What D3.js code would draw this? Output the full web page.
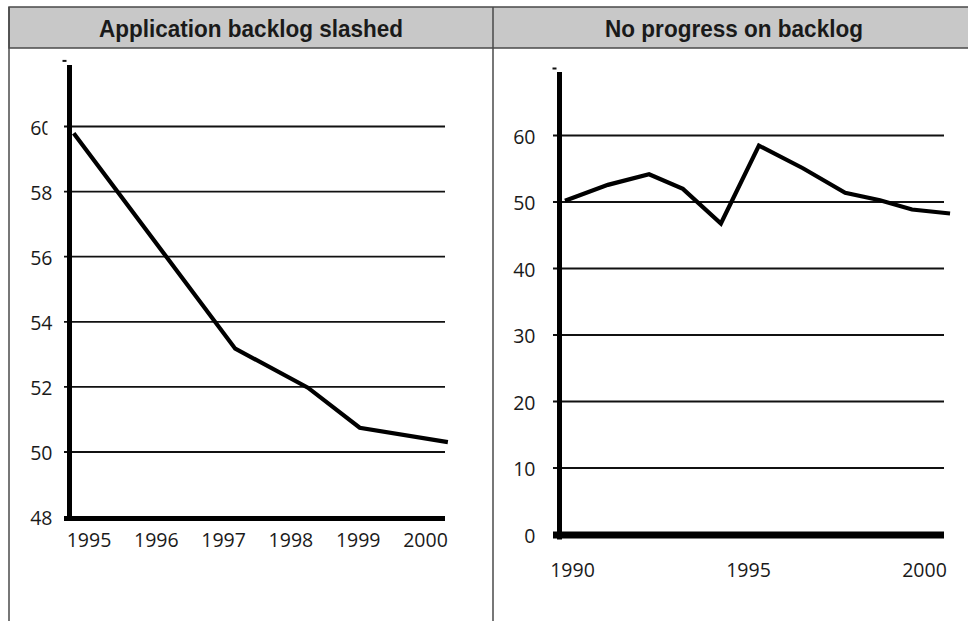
<!DOCTYPE html>
<html>
<head>
<meta charset="utf-8">
<script src="https://cdn.jsdelivr.net/npm/d3@7"></script>
<style>
  body { margin: 0; background: #fff; }
  svg { display: block; }
  .lbl { font-family: "Open Sans", sans-serif; font-size: 19.5px; fill: #1a1a1a; }
  .title { font-family: "Liberation Sans", Arial, sans-serif; font-weight: bold; font-size: 24.5px; fill: #1a1a1a; }
</style>
</head>
<body>
<svg width="968" height="621" viewBox="0 0 968 621"></svg>
<script>
// panel titles
const titles = ["Application backlog slashed", "No progress on backlog"];

// left panel: backlog, 1995-2000 (x read as fractional years)
const leftYears  = [1994.78, 1997.18, 1998.26, 1999.03, 2000.34];
const leftValues = [59.78, 53.16, 51.96, 50.73, 50.29];
const leftXTicks = [1995, 1996, 1997, 1998, 1999, 2000];
const leftYTicks = [48, 50, 52, 54, 56, 58, 60, 62];
const leftGrid   = [50, 52, 54, 56, 58, 60];

const rightYears  = [1989.80, 1991.02, 1992.19, 1993.15, 1994.23, 1995.31, 1996.56, 1997.76, 1998.75, 1999.66, 2000.74];
const rightValues = [50.1, 52.5, 54.1, 51.9, 46.7, 58.4, 55.0, 51.3, 50.2, 48.8, 48.2];
const rightXTicks = [1990, 1995, 2000];
const rightYTicks = [0, 10, 20, 30, 40, 50, 60, 70];
const rightGrid   = [10, 20, 30, 40, 50, 60];

const svg = d3.select("svg");

// frame + header band
svg.append("rect")
    .attr("x", 9).attr("y", 7)
    .attr("width", 980).attr("height", 41)
    .attr("fill", "#c8c8c8")
    .attr("stroke", "#4a4a4a").attr("stroke-width", 1.5);
svg.append("line").attr("x1", 9).attr("x2", 9).attr("y1", 7).attr("y2", 621)
    .attr("stroke", "#4a4a4a").attr("stroke-width", 1.5);
svg.append("line").attr("x1", 493).attr("x2", 493).attr("y1", 7).attr("y2", 621)
    .attr("stroke", "#4a4a4a").attr("stroke-width", 1.5);

// condensed look: squeeze the bold sans horizontally
svg.selectAll(".title")
    .data(titles)
    .enter()
    .append("text")
    .attr("class", "title")
    .attr("transform", (d, i) => `translate(${i === 0 ? 251 : 734},37) scale(0.92,1)`)
    .attr("text-anchor", "middle")
    .text(d => d);

function drawPanel(cfg) {
    const g = svg.append("g");
    const x = cfg.x, y = cfg.y;

    // gridlines
    g.append("g")
        .attr("transform", `translate(${cfg.axisX},0)`)
        .call(d3.axisLeft(y).tickValues(cfg.grid).tickSize(-(cfg.gridEnd - cfg.axisX)).tickFormat(""))
        .call(a => a.select(".domain").remove())
        .call(a => a.selectAll("line")
            .attr("x1", cfg.gridStart - cfg.axisX)
            .attr("stroke", "#111").attr("stroke-width", 1.8));

    // y tick labels + top dash
    const topVal = cfg.yTicks[cfg.yTicks.length - 1];
    const ya = g.append("g")
        .attr("transform", `translate(${cfg.axisX},0)`)
        .call(d3.axisLeft(y).tickValues(cfg.yTicks).tickSize(0).tickPadding(cfg.labelPad)
            .tickFormat(d => d === topVal ? "" : d));
    ya.select(".domain").remove();
    ya.selectAll("text").attr("class", "lbl").attr("font-size", null).attr("font-family", null)
        .attr("dy", "0.42em");
    ya.append("line")
        .attr("x1", -7).attr("x2", -3)
        .attr("y1", y(topVal)).attr("y2", y(topVal))
        .attr("stroke", "#111").attr("stroke-width", 2);
    if (cfg.clipTop) {
        const top = ya.selectAll(".tick").filter(d => d === cfg.clipTop.value);
        svg.append("clipPath").attr("id", "clipTop")
            .append("rect").attr("x", -100).attr("y", -50).attr("width", 100 - cfg.clipTop.cut).attr("height", 100);
        top.select("text").attr("clip-path", "url(#clipTop)");
    }

    // x tick labels
    const xa = g.append("g")
        .attr("transform", `translate(0,${cfg.xLabelY})`)
        .call(d3.axisBottom(x).tickValues(cfg.xTicks).tickSize(0).tickPadding(0).tickFormat(d3.format("d")));
    xa.select(".domain").remove();
    xa.selectAll("text").attr("class", "lbl").attr("font-size", null).attr("font-family", null).attr("dy", "0.71em");

    // data line
    g.append("path")
        .datum(cfg.years.map((yr, i) => [yr, cfg.values[i]]))
        .attr("fill", "none")
        .attr("stroke", "#000")
        .attr("stroke-width", 4.2)
        .attr("stroke-linejoin", "miter")
        .attr("d", d3.line().x(d => x(d[0])).y(d => y(d[1])));

    // heavy axes
    const y0 = y(cfg.yTicks[0]);
    g.append("line")
        .attr("x1", cfg.axisX).attr("x2", cfg.axisX)
        .attr("y1", cfg.axisTop).attr("y2", y0 + cfg.baseW / 2 + cfg.axisOver)
        .attr("stroke", "#000").attr("stroke-width", cfg.axisW);
    g.append("line")
        .attr("x1", cfg.gridStart).attr("x2", cfg.gridEnd)
        .attr("y1", y0 + cfg.baseOff).attr("y2", y0 + cfg.baseOff)
        .attr("stroke", "#000").attr("stroke-width", cfg.baseW);
}

drawPanel({
    x: d3.scaleLinear().domain([1995, 2000]).range([88.5, 425]),
    y: d3.scaleLinear().domain([48, 62]).range([516.6, 60.9]),
    years: leftYears, values: leftValues,
    xTicks: leftXTicks, yTicks: leftYTicks, grid: leftGrid,
    axisX: 69.5, axisTop: 65, axisW: 5, axisOver: 0,
    gridStart: 64, gridEnd: 445,
    baseW: 5, baseOff: 2,
    labelPad: 17, xLabelY: 533,
    clipTop: { value: 60, cut: 22 }
});

drawPanel({
    x: d3.scaleLinear().domain([1990, 2000]).range([572, 924]),
    y: d3.scaleLinear().domain([0, 70]).range([534, 68.5]),
    years: rightYears, values: rightValues,
    xTicks: rightXTicks, yTicks: rightYTicks, grid: rightGrid,
    axisX: 559.5, axisTop: 72, axisW: 5, axisOver: 2,
    gridStart: 553, gridEnd: 944,
    baseW: 7, baseOff: 1,
    labelPad: 24, xLabelY: 563
});
</script>
</body>
</html>
